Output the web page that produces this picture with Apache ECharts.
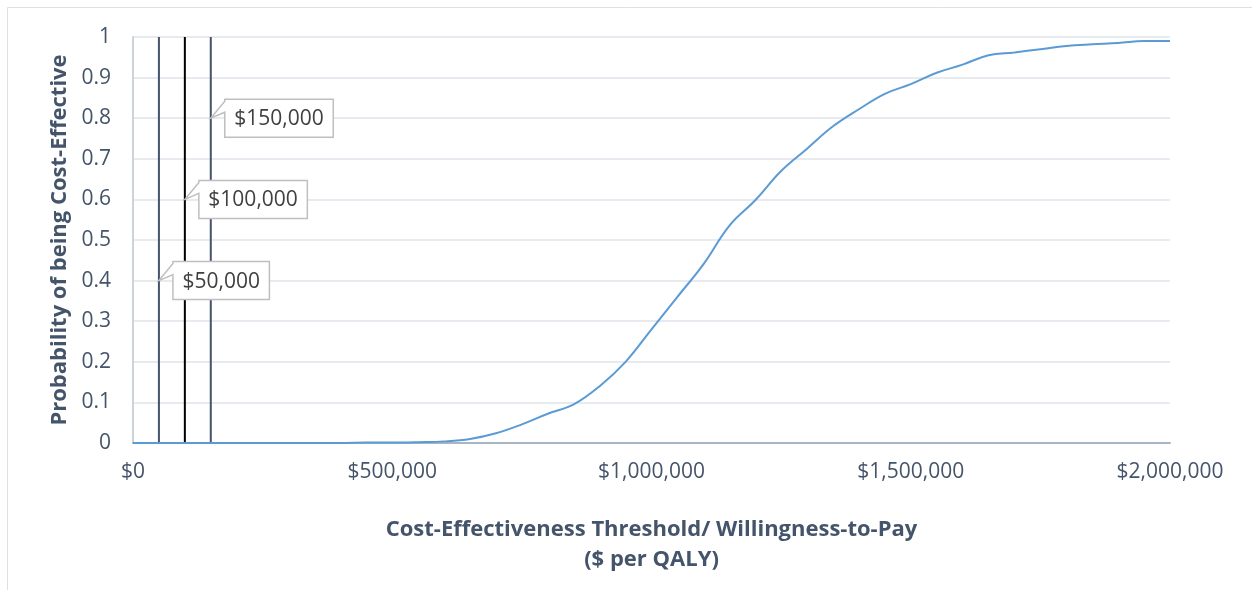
<!DOCTYPE html>
<html>
<head>
<meta charset="utf-8">
<script src="https://cdn.jsdelivr.net/npm/echarts@6/dist/echarts.min.js"></script>
<style>html,body{margin:0;padding:0;background:#fff}#c{width:1252px;height:590px}</style>
</head>
<body>
<div id="c"></div>
<script>
// Willingness-to-pay values ($ per QALY)
const wtp = [0,50000,100000,150000,200000,250000,300000,350000,400000,450000,500000,550000,600000,650000,700000,750000,800000,850000,900000,950000,1000000,1050000,1100000,1150000,1200000,1250000,1300000,1350000,1400000,1450000,1500000,1550000,1600000,1650000,1700000,1750000,1800000,1850000,1900000,1950000,2000000];
// Probability of being cost-effective
const prob = [0,0,0,0,0,0,0,0,0,0.001,0.001,0.002,0.004,0.01,0.024,0.046,0.072,0.095,0.14,0.2,0.28,0.36,0.44,0.535,0.598,0.67,0.725,0.78,0.822,0.86,0.884,0.912,0.932,0.955,0.962,0.97,0.978,0.982,0.985,0.99,0.99];
// Threshold lines and their callout anchors
const thresholds = [50000,100000,150000];
const thresholdLabels = ['$50,000','$100,000','$150,000'];
const thresholdAnchorY = [0.4,0.6,0.8];
const thresholdColors = ['#44546a','#000000','#44546a'];
const xTicks = ['$0','$500,000','$1,000,000','$1,500,000','$2,000,000'];

const chart = echarts.init(document.getElementById('c'));
const FONT = '"Open Sans", sans-serif';
const measureCtx = document.createElement('canvas').getContext('2d');
function textWidth(t, size){ measureCtx.font = size + 'px "Open Sans"'; return measureCtx.measureText(t).width; }

const series = [{
  type:'line', name:'CEAC', data: wtp.map((x,i)=>[x,prob[i]]), smooth:0.4, showSymbol:false,
  lineStyle:{color:'#5b9bd5', width:2}, z:3
}];
thresholds.forEach((t,i)=>{
  series.push({type:'line', data:[[t,0],[t,1]], showSymbol:false, lineStyle:{color:thresholdColors[i], width:2}, z:2});
});
series.push({
  type:'custom', z:5,
  data: thresholds.map((t,i)=>[t, thresholdAnchorY[i], i]),
  renderItem: function(params, api){
    const idx = api.value(2);
    const p = api.coord([api.value(0), api.value(1)]);
    const txt = thresholdLabels[idx];
    const w = textWidth(txt, 21) + 19;
    const L = p[0] + 14, T = p[1] - 19, B = p[1] + 19, R = L + w;
    return {
      type:'group', children:[
        {type:'polygon', shape:{points:[[p[0],p[1]],[L,T+2],[L,T],[R,T],[R,B],[L,B],[L,T+13]]},
         style:{fill:'#fff', stroke:'#bfbfbf', lineWidth:1.5}},
        {type:'text', style:{text:txt, x:(L+R)/2, y:p[1]+1, align:'center', verticalAlign:'middle', fill:'#404040', font:'21px '+FONT}}
      ]
    };
  }
});

chart.setOption({
  animation:false,
  backgroundColor:'#fff',
  graphic:[{type:'rect', shape:{x:7.5,y:7.5,width:1300,height:700}, style:{fill:'none', stroke:'#dde1e7', lineWidth:1}, z:-10, silent:true}],
  grid:{left:133, right:82, top:37, bottom:147, containLabel:false},
  xAxis:{
    type:'value', min:0, max:2000000, interval:500000,
    name:'Cost-Effectiveness Threshold/ Willingness-to-Pay\n($ per QALY)',
    nameLocation:'middle', nameGap:72,
    nameTextStyle:{color:'#44546a', fontFamily:FONT, fontWeight:'bold', fontSize:22, lineHeight:30},
    axisLine:{show:true, lineStyle:{color:'#a9b5c5', width:2}},
    axisTick:{show:false},
    splitLine:{show:false},
    axisLabel:{color:'#44546a', fontFamily:FONT, fontSize:21, margin:19,
      formatter:function(v){ return xTicks[Math.round(v/500000)]; }}
  },
  yAxis:{
    type:'value', min:0, max:1, interval:0.1,
    name:'Probability of being Cost-Effective',
    nameLocation:'middle', nameGap:60, nameRotate:90,
    nameTextStyle:{color:'#44546a', fontFamily:FONT, fontWeight:'bold', fontSize:22},
    axisLine:{show:true, lineStyle:{color:'#cbd3dd', width:2}},
    axisTick:{show:false},
    splitLine:{show:true, lineStyle:{color:'#dfe3e9', width:1.5}},
    axisLabel:{color:'#44546a', fontFamily:FONT, fontSize:21, margin:22,
      formatter:function(v){ return String(Math.round(v*10)/10); }}
  },
  series: series
});
</script>
</body>
</html>
